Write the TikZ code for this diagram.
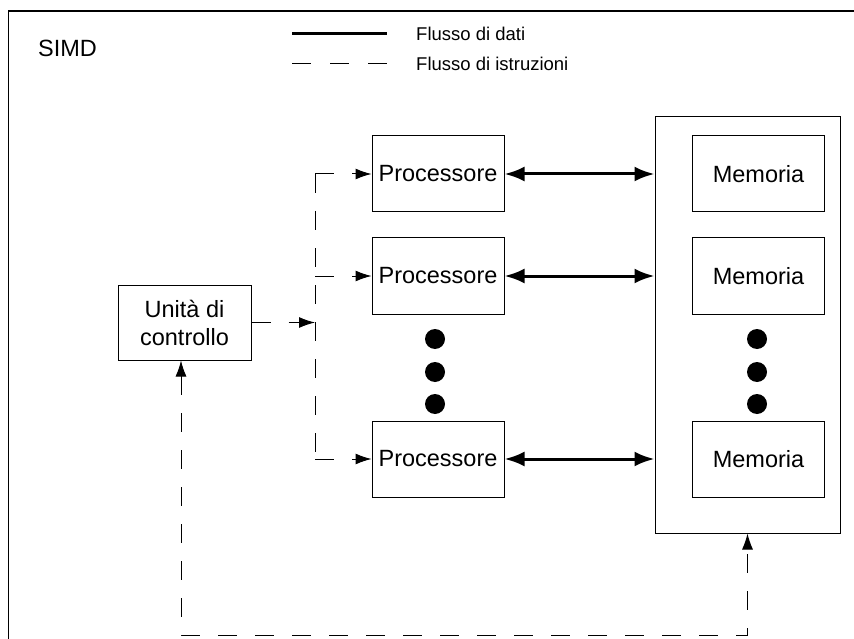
\documentclass[tikz,border=0pt]{standalone}
\usepackage{fontspec}
\setmainfont{Liberation Sans}
\usetikzlibrary{arrows.meta,calc}
\begin{document}
\begin{tikzpicture}[x=1pt,y=-1pt,
  box/.style={draw,line width=1pt,minimum width=132pt,minimum height=76pt,inner sep=0pt,
    font=\fontsize{23.5}{28}\selectfont,align=center},
  data/.style={line width=3pt,{Latex[length=20pt,width=15pt]}-{Latex[length=20pt,width=15pt]}},
  instr/.style={line width=1pt,dash pattern=on 19pt off 18pt},
  itip/.style={-{Latex[length=16pt,width=11pt]}},
  instrtip/.style={instr,itip},
  dot/.style={fill,circle,minimum size=20pt,inner sep=0pt},
  legend/.style={anchor=west,font=\fontsize{18.5}{22}\selectfont,inner sep=0pt}]
\useasboundingbox (0,0) rectangle (854,639);
% outer frame (open to the right and bottom)
\draw[line width=1.3pt] (8.5,639) -- (8.5,11) -- (854,11);
\node[anchor=west,inner sep=0pt,font=\fontsize{23.5}{28}\selectfont] (title) at (38,48) {SIMD};
% legend
\coordinate (ld1) at (292,34); \coordinate (ld2) at (387,34);
\coordinate (li1) at (292,64); \coordinate (li2) at (387,64);
\draw[line width=3pt] (ld1) -- (ld2);
\draw[line width=1pt,dash pattern=on 19pt off 19pt] (li1) -- (li2);
\node[legend] (ltxt1) at (416,34) {Flusso di dati};
\node[legend] (ltxt2) at (416,64) {Flusso di istruzioni};
% processors
\node[box] (p1) at (438,174) {Processore};
\node[box] (p2) at (438,276) {Processore};
\node[box] (p3) at (438,459) {Processore};
% memory bank
\node[draw,line width=1pt,minimum width=185pt,minimum height=416pt,inner sep=0pt] (M) at (747.5,325) {};
\node[box] (m1) at (758.5,174) {Memoria};
\node[box] (m2) at (758.5,276) {Memoria};
\node[box] (m3) at (758.5,459) {Memoria};
% control unit
\node[box,minimum width=133pt,minimum height=75pt] (cu) at (184.5,322.5) {Unità di\\controllo};
% ellipsis dots
\foreach \y/\n in {339/a,372/b,404/c}{
  \node[dot] (pd\n) at (435,\y) {};
  \node[dot] (md\n) at (757,\y) {};
}
% data flow
\foreach \i in {1,2,3}{
  \draw[data] (p\i.east) -- (p\i.east -| M.west);
}
% instruction flow
\coordinate (bus) at (315,322.5);
\coordinate (bt) at (315,174);
\coordinate (bb) at (315,459);
\draw[instrtip] (cu.east) -- (bus);
\draw[instr] (bt) -- (bb);
\draw[instrtip] (bt) -- (p1.west);
\draw[instrtip] (bt |- p2.west) -- (p2.west);
\draw[instrtip] (bb) -- (p3.west);
\coordinate (loopL) at (181,635);
\coordinate (loopR) at (747.5,635);
\draw[instr,{Latex[length=16pt,width=11pt]}-{Latex[length=16pt,width=11pt]}]
  (cu.south -| loopL) -- (loopL) -- (loopR) -- (M.south);
\end{tikzpicture}
\end{document}
